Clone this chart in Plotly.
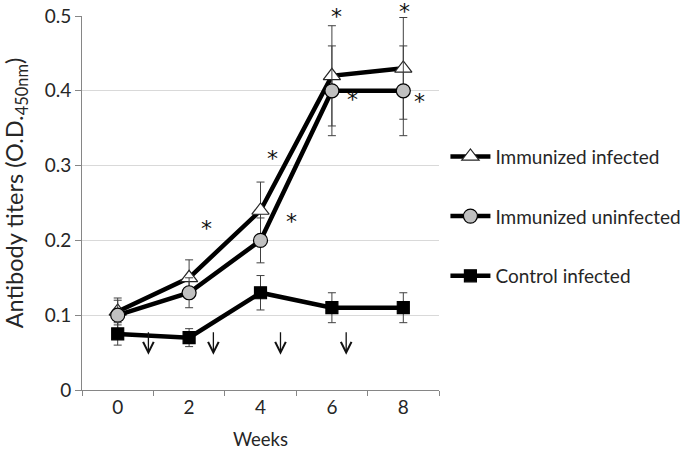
import plotly.graph_objects as go

weeks = ["0", "2", "4", "6", "8"]
imm_inf = [0.105, 0.15, 0.24, 0.42, 0.43]
imm_inf_err = [0.018, 0.024, 0.038, 0.067, 0.068]
imm_uninf = [0.10, 0.13, 0.20, 0.40, 0.40]
imm_uninf_err = [0.02, 0.02, 0.03, 0.06, 0.06]
ctrl_inf = [0.075, 0.07, 0.13, 0.11, 0.11]
ctrl_inf_err = [0.015, 0.012, 0.023, 0.02, 0.02]

# significance stars (x as category index, y in data units, extra pixel lift)
star_x = [1.24, 2.17, 2.43, 3.07, 3.29, 4.01, 4.22]
star_y = [0.22, 0.314, 0.229, 0.5, 0.392, 0.5, 0.39]
star_lift = [-3, -3, -3, 0, -3, 5, -3]
# immunization arrows (category index, arrow tip in data units)
arrow_x = [0.43, 1.34, 2.28, 3.2]
arrow_tip = 0.047

FONT = "Lato"
TXT = "#262626"

fig = go.Figure()

def add(name, y, err, symbol, fill, size):
    fig.add_trace(go.Scatter(
        x=weeks, y=y, name=name, mode="lines+markers",
        legendgroup=name,
        line=dict(color="#000000", width=4.5),
        marker=dict(symbol=symbol, size=size, color=fill,
                    line=dict(color="#000000" if fill != "#ffffff" else "#262626", width=1.2)),
        error_y=dict(type="data", array=err, visible=True,
                     color="#404040", thickness=1, width=4),
        cliponaxis=False,
    ))

add("Immunized infected", imm_inf, imm_inf_err, "triangle-up", "#ffffff", 15)
add("Immunized uninfected", imm_uninf, imm_uninf_err, "circle", "#c0c0c0", 14)
add("Control infected", ctrl_inf, ctrl_inf_err, "square", "#000000", 12)

annotations = []
for sx, sy, sl in zip(star_x, star_y, star_lift):
    annotations.append(dict(x=sx, y=sy, xref="x", yref="y", text="*",
                            showarrow=False, yshift=sl,
                            font=dict(family="DejaVu Sans", size=22, color="#111111")))
for ax_ in arrow_x:
    annotations.append(dict(x=ax_, y=arrow_tip, xref="x", yref="y", text="",
                            showarrow=True, ax=0, ay=-24, arrowhead=5,
                            arrowsize=1.6, arrowwidth=1.3, arrowcolor="#111111"))
annotations.append(dict(x=-0.186, y=0.525, xref="paper", yref="paper",
                        text="Antibody titers (O.D.<sub>450nm</sub>)", textangle=-90,
                        showarrow=False, xanchor="center", yanchor="middle",
                        font=dict(family=FONT, size=23.5, color=TXT)))

fig.update_layout(
    width=685, height=450,
    margin=dict(l=82, r=246, t=16, b=60, autoexpand=False),
    paper_bgcolor="#ffffff", plot_bgcolor="#ffffff",
    font=dict(family=FONT, size=17, color=TXT),
    showlegend=True,
    legend=dict(x=1.018, y=0.675, xanchor="left", yanchor="top",
                font=dict(family=FONT, size=19, color=TXT),
                tracegroupgap=32, itemwidth=40, bgcolor="rgba(0,0,0,0)"),
    annotations=annotations,
    xaxis=dict(type="category", tickson="boundaries", ticks="outside", ticklen=5,
               tickcolor="#868686", showline=True, linecolor="#868686", linewidth=1,
               showgrid=False, zeroline=False, automargin=False,
               tickfont=dict(family=FONT, size=19, color=TXT),
               title=dict(text="Weeks", font=dict(family=FONT, size=18.5, color=TXT), standoff=23),
               range=[-0.5, 4.5]),
    yaxis=dict(range=[0, 0.5], dtick=0.1, ticks="outside", ticklen=6,
               tickcolor="#868686", showline=True, linecolor="#868686", linewidth=1,
               showgrid=True, gridcolor="#d9d9d9", gridwidth=1, zeroline=False,
               automargin=False,
               tickfont=dict(family=FONT, size=19, color=TXT)),
)

fig.write_html("out.html", config={"displayModeBar": False},
               post_script="document.body.style.margin='0px';")
